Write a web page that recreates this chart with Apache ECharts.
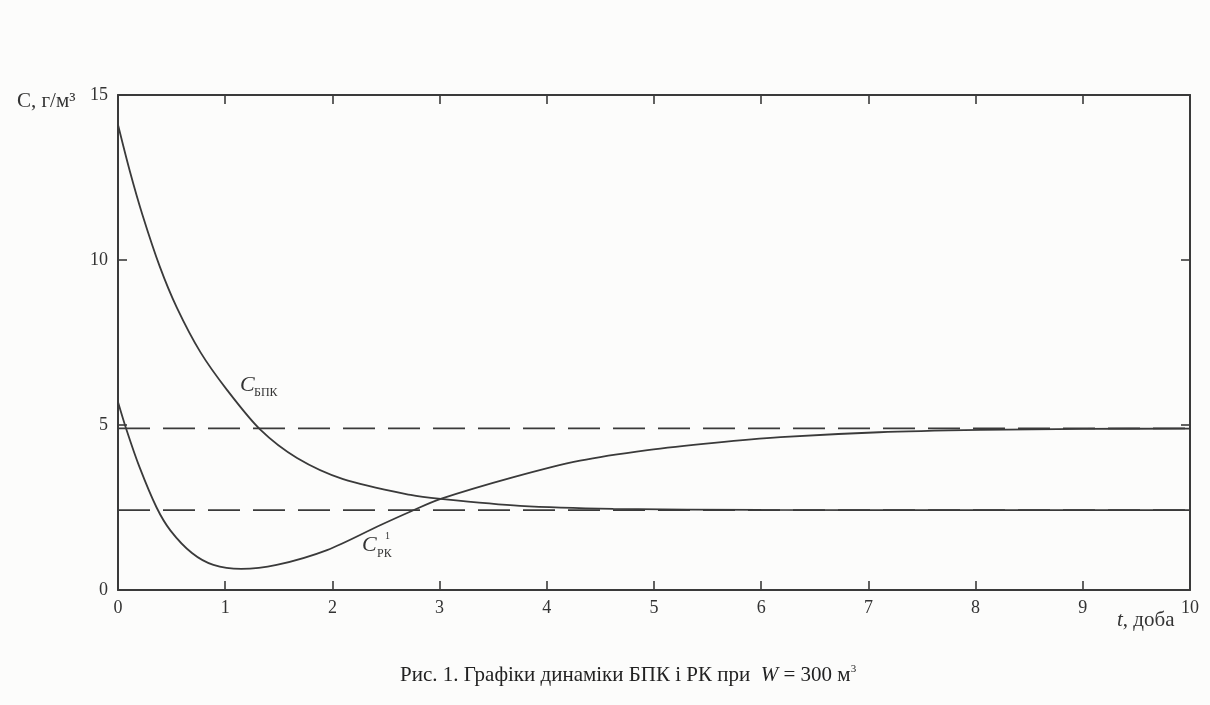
<!DOCTYPE html>
<html>
<head>
<meta charset="utf-8">
<script src="https://cdn.jsdelivr.net/npm/echarts@6/dist/echarts.min.js"></script>
<style>
html,body{margin:0;padding:0;background:#fcfcfb;}
#chart{width:1210px;height:705px;}
</style>
</head>
<body>
<div id="chart"></div>
<script>
// ---- data ----
const xTicks = [0,1,2,3,4,5,6,7,8,9,10];
const yTicks = [0,5,10,15];

const bpkT = [0, 0.11, 0.23, 0.39, 0.55, 0.77, 1.02, 1.33, 1.67, 2.10, 2.73, 3.01, 3.75, 4.62, 6.0, 8.0, 10.0];
const bpkC = [14.1, 12.7, 11.35, 9.8, 8.55, 7.2, 6.05, 4.85, 4.0, 3.36, 2.88, 2.76, 2.55, 2.46, 2.43, 2.42, 2.42];

const rkT = [0, 0.08, 0.2, 0.36, 0.49, 0.69, 0.89, 1.15, 1.48, 1.95, 2.45, 2.73, 3.01, 3.69, 4.31, 4.94, 5.56, 6.18, 7.1, 8.05, 9.0, 10.0];
const rkC = [5.7, 4.85, 3.73, 2.5, 1.8, 1.12, 0.76, 0.64, 0.76, 1.21, 1.97, 2.38, 2.76, 3.42, 3.92, 4.24, 4.46, 4.63, 4.78, 4.85, 4.88, 4.89];

const levelUpper = 4.9;   // dashed
const levelLower = 2.42;  // dashed

const xTitle = 't';
const xUnit = ', доба';
const yTitle = 'C, г/м³';
// -------------------------------------

const ink = '#3a3a3a';
const serif = '"Liberation Serif","DejaVu Serif",serif';

function pairs(t, c){ return t.map((v,i)=>[v,c[i]]); }

const chart = echarts.init(document.getElementById('chart'));

const axisCommon = {
  type:'value', min:0, interval:1,
  axisLine:{show:true, onZero:false, lineStyle:{color:ink, width:2}},
  axisTick:{show:true, inside:true, length:9, lineStyle:{color:ink, width:1.6}},
  splitLine:{show:false}
};

chart.setOption({
  backgroundColor:'#fcfcfb',
  animation:false,
  grid:{left:118, right:20, top:95, bottom:115},
  xAxis:[
    Object.assign({}, axisCommon, {max:10, position:'bottom',
      axisLabel:{show:true, margin:9, color:'#333', fontFamily:serif, fontSize:18,
        formatter:(v)=> xTicks.includes(v) ? String(v) : ''}}),
    Object.assign({}, axisCommon, {max:10, position:'top', axisLabel:{show:false}})
  ],
  yAxis:[
    Object.assign({}, axisCommon, {max:15, interval:5, position:'left',
      axisLabel:{show:true, margin:10, color:'#333', fontFamily:serif, fontSize:18,
        formatter:(v)=> yTicks.includes(v) ? String(v) : ''}}),
    Object.assign({}, axisCommon, {max:15, interval:5, position:'right', axisLabel:{show:false}})
  ],
  series:[
    {type:'line', name:'БПК', data:pairs(bpkT,bpkC), smooth:0.3, showSymbol:false,
      lineStyle:{color:ink, width:1.8}},
    {type:'line', name:'РК', data:pairs(rkT,rkC), smooth:0.3, showSymbol:false,
      lineStyle:{color:ink, width:1.8}},
    {type:'line', name:'upper', data:[[0,levelUpper],[10,levelUpper]], showSymbol:false,
      lineStyle:{color:ink, width:1.8, type:[32,13]}},
    {type:'line', name:'lower', data:[[0,levelLower],[10,levelLower]], showSymbol:false,
      lineStyle:{color:ink, width:1.8, type:[32,13]}}
  ],
  graphic:[
    {type:'text', left:17, top:91, style:{text:yTitle, font:'21px '+serif, fill:'#333'}},
    {type:'text', left:1117, top:610, style:{
      text:'{i|'+xTitle+'}{n|'+xUnit+'}',
      rich:{i:{font:'italic 21px '+serif, fill:'#333'}, n:{font:'21px '+serif, fill:'#333'}}}},
    // C_БПК label
    {type:'text', left:240, top:374, style:{text:'C', font:'italic 22px '+serif, fill:'#333'}},
    {type:'text', left:254, top:387, style:{text:'БПК', font:'12px '+serif, fill:'#333'}},
    // C_РК label
    {type:'text', left:362, top:534, style:{text:'C', font:'italic 22px '+serif, fill:'#333'}},
    {type:'text', left:377, top:548, style:{text:'РК', font:'12px '+serif, fill:'#333'}},
    {type:'text', left:385, top:531, style:{text:'1', font:'10px '+serif, fill:'#333'}},
    // caption
    {type:'text', left:400, top:664, style:{
      text:'{n|Рис. 1. Графіки динаміки БПК і РК при  }{i|W}{n| = 300 м}{s|3}',
      rich:{
        n:{font:'21px '+serif, fill:'#222'},
        i:{font:'italic 21px '+serif, fill:'#222'},
        s:{font:'11px '+serif, fill:'#222', verticalAlign:'top', padding:[0,0,12,0]}
      }}}
  ]
});
</script>
</body>
</html>
